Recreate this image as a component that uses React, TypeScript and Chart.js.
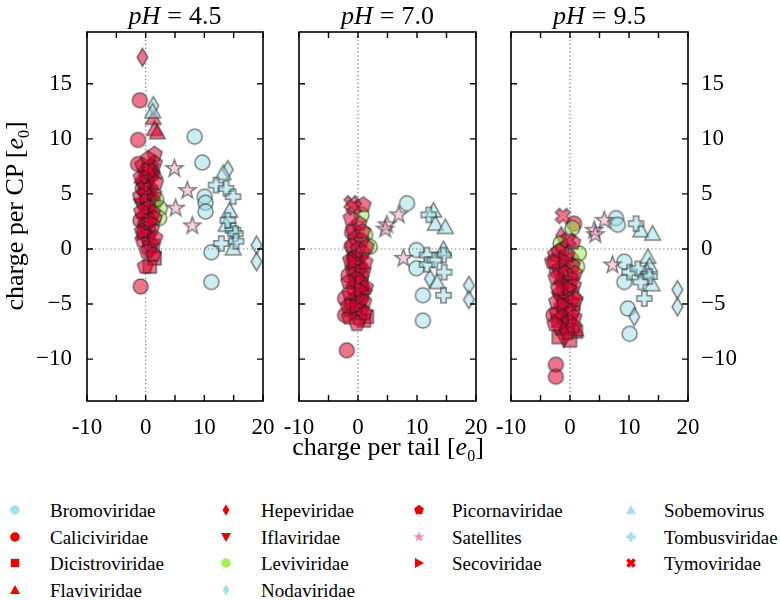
import React, { useEffect, useRef, useMemo } from 'react';
import { Chart, registerables } from 'chart.js';
Chart.register(...registerables);

const FONT = '"Liberation Serif", "DejaVu Serif", serif';
const PH_LABELS = ['4.5', '7.0', '9.5'];
const X_MIN = -10, X_MAX = 20, Y_MIN = -13.8, Y_MAX = 19.7;
const X_TICK_STEP = 5, Y_TICK_STEP = 5;

const FAMILIES = [
  'Bromoviridae', 'Caliciviridae', 'Dicistroviridae', 'Flaviviridae',
  'Hepeviridae', 'Iflaviridae', 'Leviviridae', 'Nodaviridae',
  'Picornaviridae', 'Satellites', 'Secoviridae',
  'Sobemovirus', 'Tombusviridae', 'Tymoviridae',
];
const SHAPES = [
  'circle', 'circle', 'square', 'triangle',
  'thinDiamond', 'triangleDown', 'circle', 'thinDiamond',
  'pentagon', 'star', 'triangleRight',
  'triangle', 'plus', 'xFilled',
];
const GROUP = ['blue', 'red', 'red', 'red', 'red', 'red', 'green', 'blue', 'red', 'pink', 'red', 'blue', 'blue', 'red'];

// [pH 4.5, pH 7.0, pH 9.5] ; each point = [charge per tail, charge per CP]
const bromoviridae = [
  [[8.35, 10.2], [9.65, 7.85], [10.05, 4.75], [10.2, 4.2], [10.2, 3.4], [11.2, -0.3], [11.2, -3.0]],
  [[8.3, 4.15], [9.9, -0.1], [9.9, -1.75], [11.0, -4.2], [11.0, -6.5]],
  [[7.8, 2.8], [8.1, 2.2], [9.2, -1.15], [9.2, -3.0], [9.8, -5.4], [10.1, -7.7]],
];
const caliciviridae = [
  [[-1.0, 13.5], [-1.3, 9.9], [-1.3, 7.7], [-0.85, -3.4], [-0.5, 5.5], [0.3, 3.0], [-0.9, 2.6], [1.4, 4.2], [0.6, 0.0]],
  [[-1.9, -9.2], [-2.2, -4.5], [-2.2, -6.0], [-1.0, 1.5], [0.5, -2.5], [-0.8, -1.0], [-1.6, -2.4]],
  [[-2.4, -10.5], [-2.4, -11.6], [0.7, 2.3], [-2.8, -6.0], [-1.0, -3.0], [0.3, -1.0], [-2.2, -2.0]],
];
const dicistroviridae = [
  [[1.5, -0.85], [0.7, -1.6], [1.2, 0.3], [0.5, 1.5], [1.0, 4.5], [0.2, 6.0]],
  [[1.5, -6.15], [0.6, -3.7], [-1.2, -5.5], [0.2, -4.8], [1.0, -6.5], [-0.5, -3.0]],
  [[-1.9, -8.0], [1.0, -7.5], [0.5, -5.0], [-2.0, -6.5], [-0.5, -7.0], [0.0, -8.3]],
];
const flaviviridae = [
  [[1.3, 11.9], [1.5, 10.9], [2.0, 10.6], [0.8, 5.2], [1.6, 7.0], [-0.6, 6.6]],
  [[0.5, -1.5], [1.0, -3.2], [-0.3, -0.5]],
  [[-0.8, -7.0], [0.8, -4.0], [-1.5, -2.5], [1.0, -7.3]],
];
const hepeviridae = [
  [[-0.56, 17.4], [0.2, 4.0], [-0.4, 2.0]],
  [[-1.5, 0.2], [0.3, -2.0]],
  [[-1.5, 1.2], [0.5, -2.5]],
];
const iflaviridae = [
  [[0.5, 3.5], [-0.2, 1.0], [1.0, 6.5], [0.3, 5.8], [-0.8, 4.0], [1.3, 3.8]],
  [[0.0, -4.0], [-0.6, -2.2], [0.6, -5.0], [0.3, -1.2]],
  [[-1.0, -8.2], [0.2, -6.5], [-1.8, -4.5], [-0.5, -1.5]],
];
const leviviridae = [
  [[2.4, 3.7], [2.3, 2.8], [1.8, 4.5]],
  [[0.6, 3.1], [1.2, 1.3], [2.0, 0.2]],
  [[0.4, 1.9], [-1.6, 0.5], [1.5, -0.4], [1.2, -1.6]],
];
const nodaviridae = [
  [[1.3, 13.0], [14.0, 7.2], [18.9, 0.36], [18.9, -1.15]],
  [[12.2, -2.7], [18.8, -3.3], [18.8, -4.6]],
  [[10.9, -6.15], [18.2, -3.7], [18.2, -5.25]],
];
const picornaviridae = [
  [[1.5, 8.6], [1.5, 7.8], [-0.1, -1.6], [0.0, 7.0], [0.5, 6.5], [-0.3, 6.0], [0.8, 5.5], [0.0, 5.0],
   [0.6, 4.6], [-0.4, 4.2], [0.4, 3.8], [1.2, 3.3], [-0.2, 3.0], [0.6, 2.6], [0.0, 2.2], [1.0, 1.8],
   [0.3, 1.2], [-0.5, 0.8], [0.8, 0.4], [0.2, -0.2], [1.3, -0.5], [-0.8, 6.5], [1.1, 6.8], [-0.9, 4.8],
   [1.4, 5.0], [-0.7, 3.4], [1.5, 2.8], [-0.6, 1.6], [1.6, 1.0], [0.9, 7.5], [-0.5, 7.6], [1.7, 6.0], [0.4, 8.2]],
  [[0.9, 4.0], [-0.8, 1.8], [0.2, 2.3], [-0.4, 1.0], [0.6, 0.8], [-1.0, 0.3], [0.0, 0.0], [0.8, -0.3],
   [-0.6, -0.8], [0.3, -1.6], [-0.9, -1.8], [0.9, -2.0], [-0.3, -2.7], [0.4, -3.0], [-0.8, -3.5],
   [0.7, -4.1], [-0.2, -4.4], [-1.0, -4.8], [0.5, -5.5], [-0.6, -5.8], [0.2, -6.3], [-1.5, -6.2],
   [-1.6, -3.0], [1.2, -1.2], [-1.3, -1.0], [1.0, -4.8], [-1.4, -4.0], [1.3, -3.5], [-1.7, -5.2],
   [1.1, -5.8], [-0.2, -6.8], [0.8, 1.6], [-1.2, 2.8], [1.4, 0.2]],
  [[-3.0, -1.15], [-2.5, -0.5], [-1.2, 0.0], [-0.5, -0.5], [0.4, -1.5], [-1.8, -1.8], [-0.8, -2.2],
   [0.2, -2.8], [-1.3, -3.2], [-0.3, -3.6], [0.6, -3.3], [-1.6, -4.0], [-0.7, -4.4], [0.1, -4.8],
   [-1.4, -5.2], [-0.4, -5.6], [-1.2, -6.2], [-0.2, -6.6], [-2.2, -5.8], [0.4, -5.6], [-1.6, -7.2], [-0.4, -7.6],
   [-2.4, -2.6], [0.8, -2.2], [-2.0, -3.6], [0.9, -4.6], [-2.3, -4.8], [0.7, -6.2], [-2.6, -6.8],
   [0.6, -7.0], [-1.9, -0.2], [0.5, 0.6], [-2.6, -1.2]],
];
const satellites = [
  [[4.9, 7.3], [7.1, 5.3], [5.1, 3.7], [7.95, 2.1]],
  [[4.9, 2.2], [6.9, 3.1], [7.7, -0.85], [4.6, 1.8]],
  [[4.1, 1.7], [5.8, 2.6], [7.2, -1.45], [4.3, 1.3]],
];
const secoviridae = [
  [[0.2, 4.8], [1.0, 2.5], [-0.3, 1.5]],
  [[-0.5, -1.2], [0.5, -3.6], [-0.2, -5.2]],
  [[-0.8, -1.0], [0.0, -3.5], [-1.0, -5.0]],
];
const sobemovirus = [
  [[1.2, 12.5], [13.2, 6.9], [14.3, 3.5], [13.7, 2.2], [14.9, 0.06]],
  [[12.8, 3.5], [13.1, 2.3], [14.8, 2.0], [14.5, 0.0], [13.4, -3.0]],
  [[12.0, 1.7], [14.0, 1.4], [13.2, -0.7], [13.5, -1.5], [13.9, -3.2], [13.0, -2.0]],
];
const tombusviridae = [
  [[12.0, 5.8], [13.7, 5.5], [14.9, 4.75], [14.9, 1.7], [15.3, 1.4], [12.9, 0.5], [15.4, 0.7], [14.0, 2.6]],
  [[12.0, 3.1], [11.7, -0.55], [11.7, -1.4], [14.5, -0.55], [14.6, -2.1], [14.5, -4.2], [13.0, -1.0]],
  [[11.2, 2.3], [10.1, -2.1], [13.5, -2.5], [12.6, -4.5], [11.5, -1.8], [12.0, -3.0]],
];
const tymoviridae = [
  [[0.5, 7.2], [-0.2, 5.5]],
  [[-1.1, 4.15], [-0.7, 3.8]],
  [[-1.2, 3.0], [-0.3, 0.8]],
];

const FAMILY_DATA = [
  bromoviridae, caliciviridae, dicistroviridae, flaviviridae,
  hepeviridae, iflaviridae, leviviridae, nodaviridae,
  picornaviridae, satellites, secoviridae,
  sobemovirus, tombusviridae, tymoviridae,
];

const LEGEND_COLOR: Record<string, string> = {
  blue: '#aadfea', red: '#ec0000', green: '#a6f05a', pink: '#f484b8',
};
const PLOT_FILL: Record<string, string> = {
  blue: 'rgba(160,220,230,0.52)', red: 'rgba(225,0,45,0.55)',
  green: 'rgba(150,232,70,0.5)', pink: 'rgba(242,150,190,0.45)',
};
const EDGE = 'rgba(25,35,35,0.55)';

function shapePath(ctx: CanvasRenderingContext2D, shape: string, s: number) {
  const r = s / 2;
  ctx.beginPath();
  const poly = (pts: number[][]) => {
    pts.forEach((p, i) => (i ? ctx.lineTo(p[0], p[1]) : ctx.moveTo(p[0], p[1])));
    ctx.closePath();
  };
  switch (shape) {
    case 'circle':
      ctx.arc(0, 0, r, 0, Math.PI * 2);
      break;
    case 'square': {
      const h = r * 0.88;
      poly([[-h, -h], [h, -h], [h, h], [-h, h]]);
      break;
    }
    case 'triangle':
      poly([[0, -r * 1.05], [r * 1.05, r * 0.85], [-r * 1.05, r * 0.85]]);
      break;
    case 'triangleDown':
      poly([[0, r * 1.05], [r * 1.05, -r * 0.85], [-r * 1.05, -r * 0.85]]);
      break;
    case 'triangleRight':
      poly([[r * 1.05, 0], [-r * 0.85, r * 1.05], [-r * 0.85, -r * 1.05]]);
      break;
    case 'thinDiamond':
      poly([[0, -r * 1.2], [r * 0.72, 0], [0, r * 1.2], [-r * 0.72, 0]]);
      break;
    case 'pentagon': {
      const pts = [];
      for (let i = 0; i < 5; i++) {
        const a = -Math.PI / 2 + (i * 2 * Math.PI) / 5;
        pts.push([Math.cos(a) * r * 1.08, Math.sin(a) * r * 1.08]);
      }
      poly(pts);
      break;
    }
    case 'star': {
      const pts = [];
      for (let i = 0; i < 10; i++) {
        const a = -Math.PI / 2 + (i * Math.PI) / 5;
        const rr = i % 2 === 0 ? r * 1.2 : r * 0.48;
        pts.push([Math.cos(a) * rr, Math.sin(a) * rr]);
      }
      poly(pts);
      break;
    }
    case 'plus':
    case 'xFilled': {
      const t = r * 0.36, e = r;
      let pts = [[-t, -e], [t, -e], [t, -t], [e, -t], [e, t], [t, t], [t, e], [-t, e], [-t, t], [-e, t], [-e, -t], [-t, -t]];
      if (shape === 'xFilled') {
        const c = Math.cos(Math.PI / 4), sn = Math.sin(Math.PI / 4);
        pts = pts.map(([x, y]) => [(x * c - y * sn) * 1.05, (x * sn + y * c) * 1.05]);
      }
      poly(pts);
      break;
    }
  }
}

function makeMarker(shape: string, fill: string, stroke: string | null, size: number, lw: number) {
  const dim = Math.ceil(size * 1.4 + 6);
  const c = document.createElement('canvas');
  c.width = dim;
  c.height = dim;
  const ctx = c.getContext('2d')!;
  ctx.translate(dim / 2, dim / 2);
  shapePath(ctx, shape, size);
  ctx.fillStyle = fill;
  ctx.fill();
  if (stroke) {
    ctx.lineWidth = lw;
    ctx.strokeStyle = stroke;
    ctx.lineJoin = 'miter';
    ctx.stroke();
  }
  return c;
}

const framePlugin = {
  id: 'panelFrame',
  afterDatasetsDraw(chart: any) {
    const { ctx, chartArea: a } = chart;
    const x = chart.scales.x, y = chart.scales.y;
    ctx.save();
    ctx.strokeStyle = 'rgba(115,115,115,0.95)';
    ctx.lineWidth = 1.2;
    ctx.setLineDash([1.3, 2.6]);
    const x0 = x.getPixelForValue(0), y0 = y.getPixelForValue(0);
    ctx.beginPath();
    ctx.moveTo(x0, a.top);
    ctx.lineTo(x0, a.bottom);
    ctx.moveTo(a.left, y0);
    ctx.lineTo(a.right, y0);
    ctx.stroke();
    ctx.setLineDash([]);
    ctx.strokeStyle = '#000';
    ctx.lineWidth = 1.4;
    ctx.beginPath();
    x.ticks.forEach((t: any) => {
      const p = x.getPixelForValue(t.value);
      ctx.moveTo(p, a.bottom); ctx.lineTo(p, a.bottom - 6);
      ctx.moveTo(p, a.top); ctx.lineTo(p, a.top + 6);
    });
    y.ticks.forEach((t: any) => {
      const p = y.getPixelForValue(t.value);
      ctx.moveTo(a.left, p); ctx.lineTo(a.left + 6, p);
      ctx.moveTo(a.right, p); ctx.lineTo(a.right - 6, p);
    });
    ctx.stroke();
    ctx.lineWidth = 1.6;
    ctx.strokeRect(a.left, a.top, a.right - a.left, a.bottom - a.top);
    ctx.restore();
  },
};

const PANELS = [
  { padLeft: 0, padRight: 517, yPos: 'left', yWidth: 87, showY: true, yPad: 7 },
  { padLeft: 299, padRight: 304, yPos: 'left', yWidth: 0, showY: false, yPad: 0 },
  { padLeft: 511, padRight: 18, yPos: 'right', yWidth: 74, showY: true, yPad: 5 },
];
const PANEL_CENTERS = [175, 387.5, 599.5];

function Panel({ idx }: { idx: number }) {
  const ref = useRef<HTMLCanvasElement>(null);
  useEffect(() => {
    const cfg = PANELS[idx];
    const datasets = FAMILIES.map((name, f) => ({
      label: name,
      data: FAMILY_DATA[f][idx].map(([x, y]) => ({ x, y })),
      pointStyle: makeMarker(SHAPES[f], PLOT_FILL[GROUP[f]], EDGE, 15, 1.5) as any,
      pointRadius: 7.5,
      showLine: false,
      order: -f,
    }));
    const chart = new Chart(ref.current!, {
      type: 'scatter',
      data: { datasets },
      plugins: [framePlugin],
      options: {
        animation: false,
        responsive: false,
        events: [],
        layout: { padding: { left: cfg.padLeft, right: cfg.padRight, top: 32, bottom: 0 } },
        plugins: { legend: { display: false }, tooltip: { enabled: false } },
        scales: {
          x: {
            type: 'linear', min: X_MIN, max: X_MAX,
            grid: { display: false }, border: { display: false },
            ticks: {
              stepSize: X_TICK_STEP, includeBounds: false, autoSkip: false, maxRotation: 0,
              padding: 5, color: '#000', font: { family: FONT, size: 23 },
              callback: (v: any) => (Number(v) % 10 === 0 ? String(v) : ''),
            },
            afterFit: (s: any) => { s.height = 39; },
          },
          y: {
            type: 'linear', position: cfg.yPos as any, min: Y_MIN, max: Y_MAX,
            grid: { display: false }, border: { display: false },
            ticks: {
              display: cfg.showY, stepSize: Y_TICK_STEP, includeBounds: false,
              padding: cfg.yPad, color: '#000', font: { family: FONT, size: 23 },
              callback: (v: any) => (Number(v) < 0 ? '\u2212' + Math.abs(Number(v)) : String(v)),
            },
            afterFit: (s: any) => { s.width = cfg.yWidth; },
          },
        },
      } as any,
    });
    return () => chart.destroy();
  }, [idx]);
  return (
    <canvas
      ref={ref}
      width={780}
      height={440}
      style={{ position: 'absolute', left: 0, top: 0, width: 780, height: 440 }}
    />
  );
}

const LEGEND_ROWS_Y = [510, 537, 563, 590];
const LEGEND_MARKER_X = [15, 226, 419, 631];
const LEGEND_TEXT_X = [50, 261, 452, 664];
const LEGEND_COLUMNS = [[0, 1, 2, 3], [4, 5, 6, 7], [8, 9, 10], [11, 12, 13]];

function Legend() {
  const icons = useMemo(
    () => FAMILIES.map((_, f) => makeMarker(SHAPES[f], LEGEND_COLOR[GROUP[f]], null, 9.5, 0).toDataURL()),
    []
  );
  const items: any[] = [];
  LEGEND_COLUMNS.forEach((col, c) =>
    col.forEach((f, r) => {
      items.push(
        <img key={'i' + f} src={icons[f]} alt=""
          style={{ position: 'absolute', left: LEGEND_MARKER_X[c], top: LEGEND_ROWS_Y[r], transform: 'translate(-50%,-50%)' }} />
      );
      items.push(
        <div key={'t' + f}
          style={{ position: 'absolute', left: LEGEND_TEXT_X[c], top: LEGEND_ROWS_Y[r], transform: 'translateY(-50%)', fontSize: 19, lineHeight: 1, whiteSpace: 'nowrap' }}>
          {FAMILIES[f]}
        </div>
      );
    })
  );
  return <>{items}</>;
}

export default function App() {
  return (
    <div style={{ position: 'absolute', left: 0, top: 0, width: 780, height: 600, background: '#fff', fontFamily: FONT, color: '#000', overflow: 'hidden' }}>
      {[0, 1, 2].map((i) => <Panel key={i} idx={i} />)}
      {PH_LABELS.map((ph, i) => (
        <div key={ph}
          style={{ position: 'absolute', left: PANEL_CENTERS[i], top: 16, transform: 'translate(-50%,-50%)', fontSize: 26, whiteSpace: 'nowrap', lineHeight: 1 }}>
          <i>pH</i><span style={{ margin: '0 7px' }}>=</span>{ph}
        </div>
      ))}
      <div style={{ position: 'absolute', left: 17, top: 216, transform: 'translate(-50%,-50%) rotate(-90deg)', fontSize: 26, whiteSpace: 'nowrap', lineHeight: 1 }}>
        charge per CP [<i>e</i><sub style={{ fontSize: 16 }}>0</sub>]
      </div>
      <div style={{ position: 'absolute', left: 388, top: 449, transform: 'translate(-50%,-50%)', fontSize: 26, whiteSpace: 'nowrap', lineHeight: 1 }}>
        charge per tail [<i>e</i><sub style={{ fontSize: 16 }}>0</sub>]
      </div>
      <Legend />
    </div>
  );
}
